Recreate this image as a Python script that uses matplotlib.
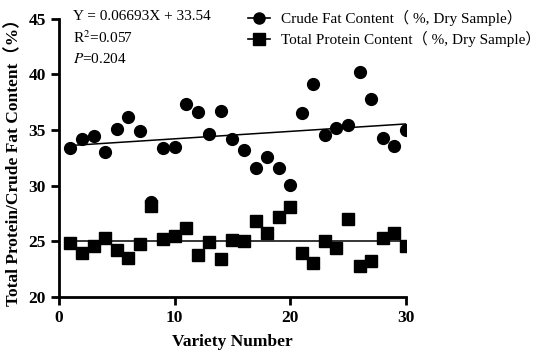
import numpy as np
import matplotlib
matplotlib.use("Agg")
import matplotlib.pyplot as plt
from matplotlib.lines import Line2D

variety = list(range(1, 31))
crude_fat = [33.39, 34.17, 34.5, 33.03, 35.1, 36.19, 34.89, 28.53, 33.39, 33.45,
             37.33, 36.64, 34.62, 36.67, 34.23, 33.24, 31.56, 32.61, 31.56, 30.03,
             36.49, 39.13, 34.59, 35.17, 35.41, 40.18, 37.75, 34.29, 33.57, 34.98]
total_protein = [24.83, 23.96, 24.56, 25.32, 24.17, 23.48, 24.77, 28.17, 25.2, 25.47,
                 26.16, 23.72, 24.89, 23.42, 25.1, 25.05, 26.85, 25.74, 27.18, 28.08,
                 23.93, 23.0, 24.98, 24.38, 27.0, 22.76, 23.21, 25.29, 25.71, 24.59]
fat_fit = (0.06693, 33.54)
protein_fit = (0.0, 25.0)
x_ticks = [0, 10, 20, 30]
y_ticks = [20, 25, 30, 35, 40, 45]

serif = ['Liberation Serif', 'Noto Sans CJK SC', 'DejaVu Sans']
plt.rcParams['font.family'] = serif
plt.rcParams['mathtext.fontset'] = 'stix'

fig = plt.figure(figsize=(5.5, 3.62), dpi=100)
ax = fig.add_axes([0.107, 0.18, 0.631, 0.768])

x = np.array(variety)
ax.plot(x, crude_fat, 'o', color='black', markersize=8.5, zorder=3)
ax.plot(x, total_protein, 's', color='black', markersize=8.5, zorder=3)
xl = np.array([x.min(), x.max()])
ax.plot(xl, fat_fit[0] * xl + fat_fit[1], color='black', lw=1.1, zorder=2)
ax.plot(xl, protein_fit[0] * xl + protein_fit[1], color='black', lw=1.1, zorder=2)

ax.set_xlim(0, 30)
ax.set_ylim(20, 45)
ax.set_xticks(x_ticks)
ax.set_yticks(y_ticks)
for s in ['top', 'right']:
    ax.spines[s].set_visible(False)
for s in ['left', 'bottom']:
    ax.spines[s].set_linewidth(2)
ax.tick_params(width=2, length=6, direction='out', labelsize=12.5)
for lab in ax.get_xticklabels() + ax.get_yticklabels():
    lab.set_fontweight('bold')

ax.set_xlabel('Variety Number', fontsize=12.5, fontweight='bold', labelpad=6)
ax.set_ylabel('Total Protein/Crude Fat Content（%）', fontsize=12.5, fontweight='bold', labelpad=4)

fig.text(0.133, 0.955, 'Y = 0.06693X + 33.54', fontsize=11, va='center')
fig.text(0.133, 0.895, 'R$^{2}$=0.057', fontsize=11, va='center')
fig.text(0.133, 0.838, '$\\mathit{P}$=0.204', fontsize=11, va='center')

handles = [Line2D([], [], color='black', marker='o', markersize=8, lw=1.2),
           Line2D([], [], color='black', marker='s', markersize=8, lw=1.2)]
fig.legend(handles, ['Crude Fat Content（ %, Dry Sample）', 'Total Protein Content（ %, Dry Sample）'],
           loc='upper left', bbox_to_anchor=(0.425, 1.01), frameon=False, fontsize=11,
           handlelength=1.5, handletextpad=0.7, labelspacing=0.3)

fig.savefig('out.png', dpi=100)
